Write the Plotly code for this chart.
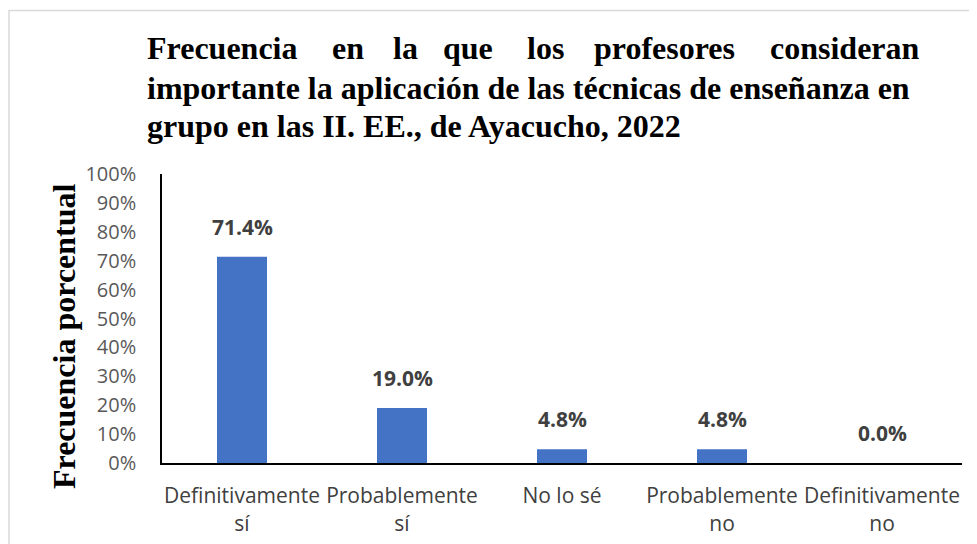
import plotly.graph_objects as go

categories = ["Definitivamente<br>sí", "Probablemente<br>sí", "No lo sé",
              "Probablemente<br>no", "Definitivamente<br>no"]
values = [0.714, 0.190, 0.048, 0.048, 0.0]
y_ticks = [0, 0.1, 0.2, 0.3, 0.4, 0.5, 0.6, 0.7, 0.8, 0.9, 1.0]
title_line1 = ["Frecuencia", "en", "la", "que", "los", "profesores", "consideran"]
title_line2 = "importante la aplicación de las técnicas de enseñanza en"
title_line3 = "grupo en las II. EE., de Ayacucho, 2022"
y_title = "Frecuencia porcentual"

# the page body adds an 8px margin, so work in shifted coordinates
OFF = 8
W, H = 977 - OFF, 544 - OFF
L, R, T, B = 162 - OFF, 962 - OFF, 174 - OFF, 463 - OFF


def px(x):
    return (x - OFF - L) / (R - L)


def py(y):
    return (B - (y - OFF)) / (B - T)


fig = go.Figure()
fig.add_trace(go.Bar(
    x=categories,
    y=values,
    marker=dict(color="#4472C4", line=dict(width=0)),
    hoverinfo="skip",
))

# data labels
for c, v in zip(categories, values):
    fig.add_annotation(
        x=c, y=v, xref="x", yref="y",
        text=f"{v * 100:.1f}%", showarrow=False,
        yanchor="bottom", yshift=14,
        font=dict(family="Open Sans", size=21, color="#404040", weight="bold"),
    )

title_font = dict(family="Liberation Serif", size=32, color="#000000", weight="bold")

# first title line is justified: place word by word
line1_x = [145, 330, 391, 441, 525, 592, 768]
for word, x in zip(title_line1, line1_x):
    fig.add_annotation(x=px(x), y=py(48), xref="paper", yref="paper",
                       text=word, showarrow=False, xanchor="left", yanchor="middle",
                       font=title_font)
fig.add_annotation(x=px(145), y=py(88), xref="paper", yref="paper",
                   text=title_line2, showarrow=False, xanchor="left", yanchor="middle",
                   font=title_font)
fig.add_annotation(x=px(145), y=py(126), xref="paper", yref="paper",
                   text=title_line3, showarrow=False, xanchor="left", yanchor="middle",
                   font=title_font)

# y axis title
fig.add_annotation(x=px(64), y=py(336), xref="paper", yref="paper",
                   text=y_title, showarrow=False, textangle=-90,
                   xanchor="center", yanchor="middle", font=title_font)

# outer chart border
fig.add_shape(type="rect", xref="paper", yref="paper",
              x0=px(9), x1=px(990), y0=py(560), y1=py(10.5),
              line=dict(color="#D9D9D9", width=1.5), fillcolor="rgba(0,0,0,0)",
              layer="above")

fig.update_layout(
    width=W, height=H,
    margin=dict(l=L, r=W - R, t=T, b=H - B, autoexpand=False),
    paper_bgcolor="white",
    plot_bgcolor="white",
    showlegend=False,
    bargap=0.6875,
    font=dict(family="Open Sans", size=20, color="#595959"),
)
fig.update_xaxes(
    showline=True, linecolor="black", linewidth=2,
    showgrid=False, ticks="", tickangle=0,
    ticklabelstandoff=13,
    tickfont=dict(family="Open Sans", size=21, color="#404040"),
)
fig.update_yaxes(
    range=[0, 1], tickvals=y_ticks, tickformat=".0%",
    showline=True, linecolor="black", linewidth=1.5,
    showgrid=False, zeroline=False, ticks="",
    ticklabelstandoff=20,
    tickfont=dict(family="Open Sans", size=20, color="#595959"),
)

fig.write_html("out.html")
